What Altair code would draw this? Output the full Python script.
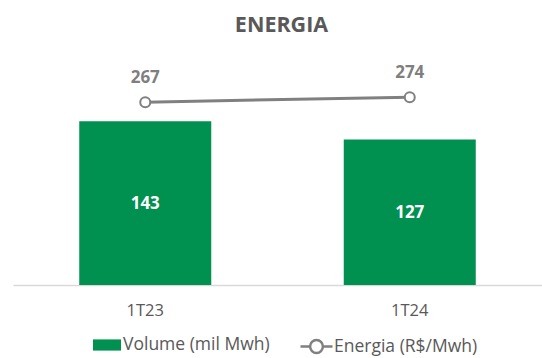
import altair as alt
import pandas as pd

categorias = ["1T23", "1T24"]
volume = [143, 127]
energia = [267, 274]

serie_volume = "Volume (mil Mwh)"
serie_energia = "Energia (R$/Mwh)"

df = pd.DataFrame({
    "periodo": categorias,
    "volume": volume,
    "energia": energia,
    "serie_v": [serie_volume] * len(categorias),
    "serie_e": [serie_energia] * len(categorias),
})

FONT = "Open Sans"
GREEN = "#00904F"
GRAY = "#808080"

x_enc = alt.X(
    "periodo:N",
    sort=categorias,
    title=None,
    scale=alt.Scale(paddingInner=0.5, paddingOuter=0.25),
    axis=alt.Axis(
        domain=True, domainColor="#D9D9D9", domainWidth=1.5, ticks=False, grid=False,
        labelAngle=0, labelFont=FONT, labelFontSize=16.5, labelColor="#595959",
        labelPadding=17, labelBaseline="top",
    ),
)

base = alt.Chart(df).encode(x=x_enc)

y_bar = alt.Y("volume:Q", scale=alt.Scale(domain=[0, 214], nice=False, zero=True), axis=None)

bars = base.mark_bar(size=132).encode(
    y=y_bar,
    fill=alt.Fill(
        "serie_v:N",
        scale=alt.Scale(domain=[serie_volume], range=[GREEN]),
        legend=alt.Legend(
            title=None, orient="none", legendX=80, legendY=291,
            symbolType="M-1,-0.4H1V0.4H-1Z", symbolSize=784, symbolStrokeWidth=0,
            symbolOpacity=1,
            labelFont=FONT, labelFontSize=17.5, labelColor="#595959", labelOffset=2,
        ),
    ),
)

bar_text = base.transform_calculate(meio="datum.volume / 2").mark_text(
    font=FONT, fontSize=17, fontWeight="bold", color="white", baseline="middle", dy=1
).encode(
    y=alt.Y("meio:Q", scale=alt.Scale(domain=[0, 214], nice=False, zero=True), axis=None),
    text=alt.Text("volume:Q"),
)

y_line = alt.Y("energia:Q", scale=alt.Scale(domain=[11, 354], nice=False, zero=False), axis=None)

line = base.mark_line(strokeWidth=3).encode(
    y=y_line,
    stroke=alt.Stroke(
        "serie_e:N",
        scale=alt.Scale(domain=[serie_energia], range=[GRAY]),
        legend=alt.Legend(
            title=None, orient="none", legendX=286, legendY=289,
            symbolType="M-1,0L-0.4,0M0.4,0L1,0M-0.4,0A0.4,0.4,0,1,0,0.4,0A0.4,0.4,0,1,0,-0.4,0",
            symbolSize=1024, symbolStrokeWidth=2.5, symbolFillColor="white",
            labelFont=FONT, labelFontSize=17.5, labelColor="#595959", labelOffset=0,
        ),
    ),
)

points = base.mark_point(
    shape="circle", size=100, filled=True, fill="white", stroke=GRAY, strokeWidth=2, opacity=1
).encode(y=y_line)

line_text = base.mark_text(
    font=FONT, fontSize=17, fontWeight="bold", color="#7F7F7F", baseline="middle", dy=-24
).encode(y=y_line, text=alt.Text("energia:Q"))

chart = alt.layer(
    alt.layer(bars, bar_text),
    alt.layer(line, points, line_text),
).resolve_scale(y="independent").properties(
    width=529,
    height=245,
    background="white",
    title=alt.TitleParams(
        "ENERGIA", font=FONT, fontSize=21.5, fontWeight="bold", color="#595959",
        anchor="middle", dx=4, offset=4,
    ),
    padding={"left": 13, "top": 40, "right": 0, "bottom": 73},
    autosize=alt.AutoSizeParams(type="none"),
).configure_view(strokeWidth=0, stroke="transparent")

chart.save("out.html", embed_options={"renderer": "svg", "actions": False})
